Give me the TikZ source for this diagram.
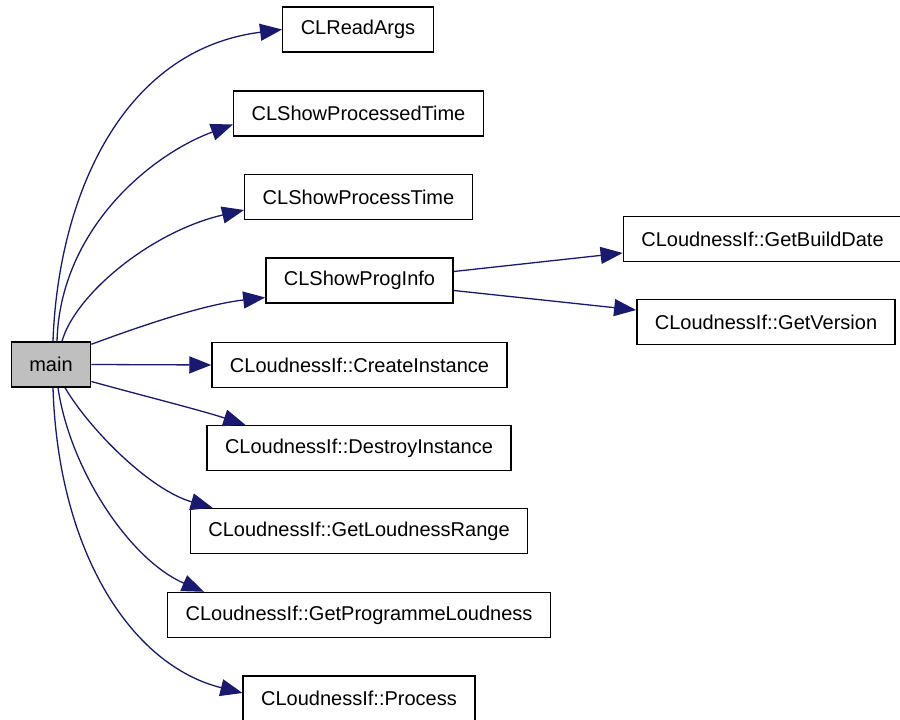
\documentclass[tikz,border=0pt]{standalone}
\usepackage{fontspec}
\setmainfont{Liberation Sans}
\definecolor{edgeBlue}{HTML}{191970}
\definecolor{mainGray}{HTML}{BFBFBF}
\usetikzlibrary{arrows.meta}

\begin{document}
\begin{tikzpicture}[x=1pt, y=1pt,
    funcBox/.style={draw=black, line width=1.4pt, fill=white, minimum height=45pt,
        inner xsep=18pt, font=\fontsize{20}{24}\selectfont},
    callEdge/.style={-{Triangle[length=22pt, width=17pt]}, line width=1.3pt, edgeBlue}]
    \useasboundingbox (0,0) rectangle (900,720);

    % caller
    \node[funcBox, fill=mainGray] (main) at (51,355.5) {main};

    % callees
    \node[funcBox] (readArgs) at (358,690.5) {CLReadArgs};
    \node[funcBox] (showProcessed) at (358.5,606.5) {CLShowProcessedTime};
    \node[funcBox] (showProcess) at (358.5,523) {CLShowProcessTime};
    \node[funcBox] (showProgInfo) at (359.5,439.5) {CLShowProgInfo};
    \node[funcBox] (createInst) at (359.5,355) {CLoudnessIf::CreateInstance};
    \node[funcBox] (destroyInst) at (359,272) {CLoudnessIf::DestroyInstance};
    \node[funcBox] (loudRange) at (359,189) {CLoudnessIf::GetLoudnessRange};
    \node[funcBox] (progLoud) at (359,105) {CLoudnessIf::GetProgrammeLoudness};
    \node[funcBox] (process) at (359,21.5) {CLoudnessIf::Process};
    \node[funcBox] (buildDate) at (762.5,481) {CLoudnessIf::GetBuildDate};
    \node[funcBox] (version) at (766,398) {CLoudnessIf::GetVersion};

    % calls from main
    \draw[callEdge] ([xshift=2pt]main.north) .. controls (58,520) and (120,670) .. (readArgs.west);
    \draw[callEdge] ([xshift=6pt]main.north) .. controls (60,490) and (150,565) .. ([yshift=-11pt]showProcessed.west);
    \draw[callEdge] ([xshift=11pt]main.north) .. controls (75,425) and (150,488) .. ([yshift=-13pt]showProcess.west);
    \draw[callEdge] ([yshift=-3pt]main.north east) .. controls (130,390) and (200,415) .. ([yshift=-17pt]showProgInfo.west);
    \draw[callEdge] (main.east) -- (createInst.west);
    \draw[callEdge] ([yshift=-17pt]main.east) .. controls (140,325) and (200,310) .. ([xshift=39pt]destroyInst.north west);
    \draw[callEdge] ([xshift=14pt]main.south) .. controls (90,290) and (150,230) .. ([xshift=23pt]loudRange.north west);
    \draw[callEdge] ([xshift=7pt]main.south) .. controls (70,250) and (130,160) .. ([xshift=37pt]progLoud.north west);
    \draw[callEdge] ([xshift=2pt]main.south) .. controls (58,170) and (130,55) .. ([yshift=5.5pt]process.west);

    % calls from CLShowProgInfo
    \draw[callEdge] ([yshift=9pt]showProgInfo.east) -- ([yshift=-14pt]buildDate.west);
    \draw[callEdge] ([yshift=-10pt]showProgInfo.east) -- ([yshift=12pt]version.west);
\end{tikzpicture}
\end{document}
